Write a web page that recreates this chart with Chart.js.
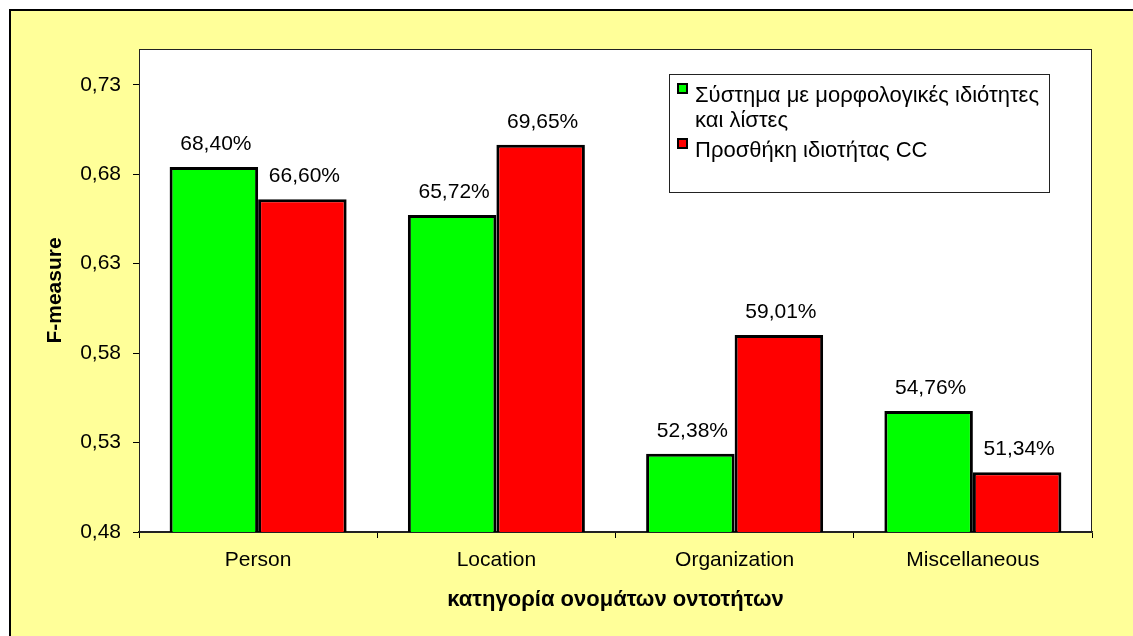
<!DOCTYPE html>
<html>
<head>
<meta charset="utf-8">
<script src="https://cdn.jsdelivr.net/npm/chart.js@4"></script>
<style>
  html, body { margin: 0; padding: 0; background: #fff; }
  #wrap { width: 1133px; height: 636px; }
</style>
</head>
<body>
<div id="wrap"><canvas id="fmChart" width="1133" height="636"></canvas></div>
<script>
// data
const categories = ['Person', 'Location', 'Organization', 'Miscellaneous'];
const seriesNames = ['Σύστημα με μορφολογικές ιδιότητες και λίστες', 'Προσθήκη ιδιοτήτας CC'];
const morphValues = [0.6840, 0.6572, 0.5238, 0.5476];
const ccValues = [0.6660, 0.6965, 0.5901, 0.5134];
const yTicks = [0.48, 0.53, 0.58, 0.63, 0.68, 0.73];

const FONT = "'Liberation Sans', Arial, sans-serif";
Chart.defaults.font.family = FONT;
Chart.defaults.color = '#000';

const fmt = v => v.toFixed(2).replace('.', ',');
const pct = v => (v * 100).toFixed(2).replace('.', ',') + '%';

// background, plot area frame
const frame = {
    id: 'frame',
    beforeDraw(chart) {
        const { ctx, chartArea: a } = chart;
        ctx.save();
        ctx.fillStyle = '#fff';
        ctx.fillRect(0, 0, chart.width, chart.height);
        ctx.fillStyle = '#FFFF99';
        ctx.fillRect(10, 10, chart.width, chart.height);
        ctx.strokeStyle = '#000';
        ctx.lineWidth = 2;
        ctx.beginPath();
        ctx.moveTo(10, chart.height + 5);
        ctx.lineTo(10, 10);
        ctx.lineTo(chart.width + 5, 10);
        ctx.stroke();
        ctx.fillStyle = '#fff';
        ctx.fillRect(a.left, a.top, a.right - a.left, a.bottom - a.top);
        ctx.lineWidth = 1;
        ctx.strokeStyle = '#222';
        ctx.strokeRect(a.left + 0.5, a.top + 0.5, a.right - a.left - 1, a.bottom - a.top);
        ctx.restore();
    }
};

// value labels above bars
const barLabels = {
    id: 'barLabels',
    afterDatasetsDraw(chart) {
        const ctx = chart.ctx;
        ctx.save();
        ctx.font = '21px ' + FONT;
        ctx.fillStyle = '#000';
        ctx.textAlign = 'center';
        ctx.textBaseline = 'alphabetic';
        chart.data.datasets.forEach((ds, i) => {
            chart.getDatasetMeta(i).data.forEach((bar, j) => {
                ctx.fillText(pct(ds.data[j]), bar.x + 2, bar.y - 17);
            });
        });
        ctx.restore();
    }
};

// legend box inside plot
const boxLegend = {
    id: 'boxLegend',
    afterDraw(chart) {
        const ctx = chart.ctx;
        const x0 = 669, y0 = 74, w = 380, h = 118;
        ctx.save();
        ctx.fillStyle = '#fff';
        ctx.fillRect(x0, y0, w, h);
        ctx.strokeStyle = '#222';
        ctx.lineWidth = 1;
        ctx.strokeRect(x0 + 0.5, y0 + 0.5, w, h);
        ctx.font = '22px ' + FONT;
        ctx.textBaseline = 'alphabetic';
        ctx.textAlign = 'left';
        let y = 102;
        chart.data.datasets.forEach(ds => {
            // wrap text
            const words = ds.label.split(' ');
            const lines = [];
            let cur = '';
            words.forEach(wd => {
                const t = cur ? cur + ' ' + wd : wd;
                if (ctx.measureText(t).width > 350 && cur) { lines.push(cur); cur = wd; }
                else cur = t;
            });
            lines.push(cur);
            ctx.fillStyle = ds.backgroundColor;
            ctx.fillRect(678, y - 18, 9, 9);
            ctx.strokeStyle = '#000';
            ctx.lineWidth = 2;
            ctx.strokeRect(678, y - 18, 9, 9);
            ctx.fillStyle = '#000';
            lines.forEach((ln, k) => ctx.fillText(ln, 695, y + k * 25));
            y += lines.length * 25 + 5;
        });
        ctx.restore();
    }
};

new Chart(document.getElementById('fmChart'), {
    type: 'bar',
    data: {
        labels: categories,
        datasets: [
            { label: seriesNames[0], data: morphValues, backgroundColor: '#00FF00' },
            { label: seriesNames[1], data: ccValues, backgroundColor: '#FF0000' }
        ]
    },
    options: {
        responsive: false,
        animation: false,
        devicePixelRatio: 1,
        layout: { padding: { left: 0, top: 49, right: 41, bottom: 0 } },
        datasets: {
            bar: {
                categoryPercentage: 0.743,
                barPercentage: 1,
                borderColor: '#000',
                borderWidth: 3,
                borderSkipped: false
            }
        },
        plugins: {
            legend: { display: false },
            tooltip: { enabled: false }
        },
        scales: {
            x: {
                grid: { offset: true, drawOnChartArea: false, drawTicks: true, tickLength: 6, color: '#000' },
                border: { display: true, color: '#222', width: 1.5 },
                ticks: { font: { size: 21 }, padding: 10, color: '#000' },
                title: {
                    display: true,
                    text: 'κατηγορία ονομάτων οντοτήτων',
                    font: { size: 22, weight: 'bold' },
                    padding: { top: 0, bottom: 23 }
                },
                afterFit(scale) { scale.height = 104; }
            },
            y: {
                min: 0.48,
                max: 0.75,
                afterBuildTicks(scale) { scale.ticks = yTicks.map(v => ({ value: v })); },
                grid: { drawOnChartArea: false, drawTicks: true, tickLength: 6, color: '#000' },
                border: { display: true, color: '#222', width: 1 },
                ticks: { font: { size: 21 }, padding: 12, color: '#000', callback: v => fmt(v) },
                title: {
                    display: true,
                    text: 'F-measure',
                    font: { size: 21, weight: 'bold' },
                    padding: { top: 43, bottom: 0 }
                },
                afterFit(scale) { scale.width = 139; }
            }
        }
    },
    plugins: [frame, barLabels, boxLegend]
});
</script>
</body>
</html>
